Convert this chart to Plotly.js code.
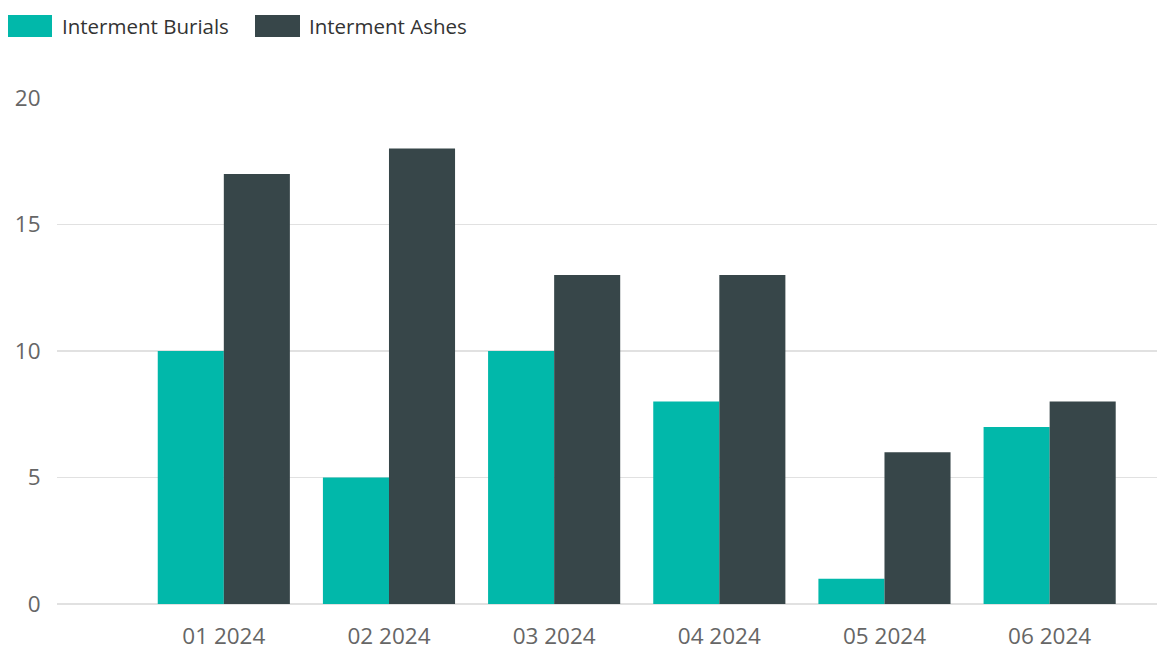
<!DOCTYPE html>
<html>
<head>
<meta charset="utf-8">
<script src="https://cdn.plot.ly/plotly-3.0.1.min.js"></script>
<style>html,body{margin:0;padding:0;background:#fff;}#chart{width:1157px;height:651px;}</style>
</head>
<body>
<div id="chart"></div>
<script>
var categories = ["01 2024", "02 2024", "03 2024", "04 2024", "05 2024", "06 2024"];
var seriesNames = ["Interment Burials", "Interment Ashes"];
var burials = [10, 5, 10, 8, 1, 7];
var ashes = [17, 18, 13, 13, 6, 8];
var yTicks = [0, 5, 10, 15, 20];
var colors = ["#01B8AA", "#374649"];

var font = "'Segoe UI', 'Open Sans', sans-serif";
var textColor = "#666666";

var traces = [
  {type: "bar", name: seriesNames[0], x: categories, y: burials, marker: {color: colors[0]}, showlegend: false},
  {type: "bar", name: seriesNames[1], x: categories, y: ashes, marker: {color: colors[1]}, showlegend: false}
];

var layout = {
  width: 1157, height: 651,
  margin: {l: 57, r: 0, t: 98, b: 47, pad: 0},
  paper_bgcolor: "#fff", plot_bgcolor: "#fff",
  barmode: "group", bargap: 0.2, bargroupgap: 0,
  font: {family: font, color: textColor},
  xaxis: {
    type: "category", range: [-1.01, 5.65], showgrid: false, zeroline: false, showline: false,
    ticks: "outside", ticklen: 12, tickcolor: "rgba(0,0,0,0)",
    tickfont: {size: 22.5, family: font, color: textColor}
  },
  yaxis: {
    range: [0, 20], tickvals: yTicks, ticktext: yTicks.map(String),
    showgrid: true, gridcolor: "#e1e1e1", gridwidth: 1.5,
    zeroline: true, zerolinecolor: "#e1e1e1", zerolinewidth: 1.5, showline: false,
    ticks: "outside", ticklen: 11, tickcolor: "rgba(0,0,0,0)",
    tickfont: {size: 22.5, family: font, color: textColor}
  },
  shapes: [
    {type: "rect", xref: "paper", yref: "paper", x0: -49/1100, x1: -5/1100, y0: 1 + 61/506, y1: 1 + 83/506, fillcolor: colors[0], line: {width: 0}},
    {type: "rect", xref: "paper", yref: "paper", x0: 198/1100, x1: 243/1100, y0: 1 + 61/506, y1: 1 + 83/506, fillcolor: colors[1], line: {width: 0}}
  ],
  annotations: [
    {xref: "paper", yref: "paper", x: 3/1100, y: 1 + 72/506, xanchor: "left", yanchor: "middle", showarrow: false, text: seriesNames[0], font: {size: 20.5, family: font, color: "#333333"}},
    {xref: "paper", yref: "paper", x: 250/1100, y: 1 + 72/506, xanchor: "left", yanchor: "middle", showarrow: false, text: seriesNames[1], font: {size: 20.5, family: font, color: "#333333"}}
  ]
};

Plotly.newPlot("chart", traces, layout, {displayModeBar: false, staticPlot: true});
</script>
</body>
</html>
